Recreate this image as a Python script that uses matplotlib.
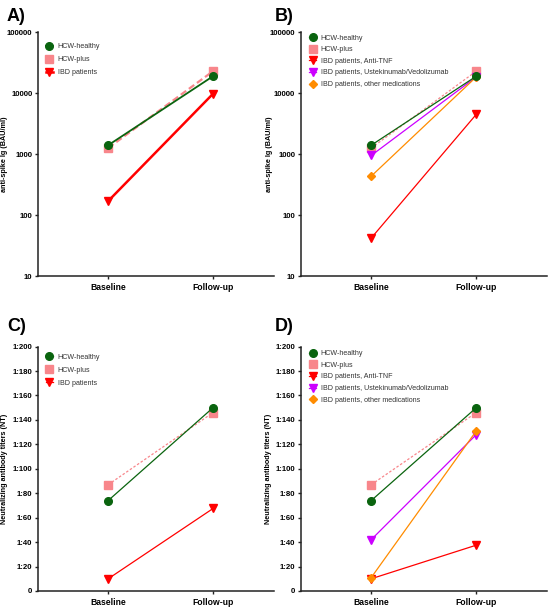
import matplotlib
matplotlib.use("Agg")
import matplotlib.pyplot as plt
from matplotlib.ticker import FixedLocator, NullLocator

plt.rcParams['font.family'] = ['Liberation Sans', 'DejaVu Sans']

# data
timepoints = ['Baseline', 'Follow-up']

# A) anti-spike IgG, pooled IBD
igg_healthy = [1400, 19000]
igg_plus = [1260, 23000]
igg_ibd = [170, 9800]

# B) anti-spike IgG by IBD medication
igg_anti_tnf = [42, 4500]
igg_uste_vedo = [950, 18500]
igg_other = [435, 18500]

# C) neutralizing titers, pooled IBD
nt_healthy = [74, 150]
nt_plus = [87, 146]
nt_ibd = [10, 67.5]

# D) neutralizing titers by IBD medication
nt_anti_tnf = [10, 37.5]
nt_uste_vedo = [42, 128]
nt_other = [11, 131]

log_ticks = [10, 100, 1000, 10000, 100000]
log_ticklabels = ['10', '100', '1000', '10000', '100000']
nt_ticks = [0, 20, 40, 60, 80, 100, 120, 140, 160, 180, 200]
nt_ticklabels = ['0', '1:20', '1:40', '1:60', '1:80', '1:100', '1:120',
                 '1:140', '1:160', '1:180', '1:200']

green = '#0A640F'
pink = '#F8868B'
red = '#FF0000'
magenta = '#CC00FF'
orange = '#FF8C00'

fig = plt.figure(figsize=(5.5, 6.08), dpi=100)
axA = fig.add_axes([0.069, 0.546, 0.429, 0.401])
axB = fig.add_axes([0.547, 0.546, 0.447, 0.401])
axC = fig.add_axes([0.069, 0.028, 0.429, 0.402])
axD = fig.add_axes([0.547, 0.028, 0.447, 0.402])

x = [0, 1]


def series(ax, y, color, marker, label, lw, ls='-', ms=5.5, z=3):
    ax.plot(x, y, color=color, lw=lw, ls=ls, marker=marker, ms=ms,
            markeredgecolor=color, label=label, zorder=z)


def style(ax, ylabel, ylab_x):
    for s in ['top', 'right']:
        ax.spines[s].set_visible(False)
    for s in ['left', 'bottom']:
        ax.spines[s].set_linewidth(1.1)
        ax.spines[s].set_color('#222222')
    ax.set_xticks(x)
    ax.set_xticklabels(timepoints, fontsize=6.2, fontweight='bold')
    ax.tick_params(axis='both', direction='out', length=2.5, width=1,
                   color='#222222', pad=1.5)
    ax.tick_params(axis='x', pad=2.5)
    ax.set_ylabel(ylabel, fontsize=5.2, fontweight='bold')
    ax.yaxis.set_label_coords(ylab_x, 0.5)
    for t in ax.get_yticklabels():
        t.set_fontsize(5.6)
        t.set_fontweight('bold')


def legend(ax, anchor, spacing):
    lg = ax.legend(loc='upper left', bbox_to_anchor=anchor, frameon=False,
                   fontsize=5.1, handlelength=0.9, handletextpad=0.7,
                   labelspacing=spacing, borderaxespad=0, borderpad=0)
    for t in lg.get_texts():
        t.set_color('#333333')


# A
series(axA, igg_healthy, green, 'o', 'HCW-healthy', 1.3, z=4)
series(axA, igg_plus, pink, 's', 'HCW-plus', 1.6, ls=(0, (3, 1.5)))
series(axA, igg_ibd, red, 'v', 'IBD patients', 1.8)
axA.set_yscale('log')
axA.set_ylim(10, 100000)
axA.set_xlim(-0.67, 1.58)
axA.yaxis.set_major_locator(FixedLocator(log_ticks))
axA.yaxis.set_minor_locator(NullLocator())
axA.set_yticklabels(log_ticklabels)
style(axA, 'anti-spike Ig (BAU/ml)', -0.125)
legend(axA, (0.035, 0.955), 0.85)

# B
series(axB, igg_healthy, green, 'o', 'HCW-healthy', 0.9, z=4)
series(axB, igg_plus, pink, 's', 'HCW-plus', 0.9, ls=(0, (2, 1.5)))
series(axB, igg_anti_tnf, red, 'v', 'IBD patients, Anti-TNF', 0.9)
series(axB, igg_uste_vedo, magenta, 'v', 'IBD patients, Ustekinumab/Vedolizumab', 0.9)
series(axB, igg_other, orange, 'D', 'IBD patients, other medications', 0.9, ms=4.2)
axB.set_yscale('log')
axB.set_ylim(10, 100000)
axB.set_xlim(-0.67, 1.67)
axB.yaxis.set_major_locator(FixedLocator(log_ticks))
axB.yaxis.set_minor_locator(NullLocator())
axB.set_yticklabels(log_ticklabels)
style(axB, 'anti-spike Ig (BAU/ml)', -0.115)
legend(axB, (0.035, 0.99), 0.65)

# C
series(axC, nt_healthy, green, 'o', 'HCW-healthy', 0.9, z=4)
series(axC, nt_plus, pink, 's', 'HCW-plus', 0.9, ls=(0, (2, 1.5)))
series(axC, nt_ibd, red, 'v', 'IBD patients', 0.9)
axC.set_ylim(0, 200)
axC.set_xlim(-0.67, 1.58)
axC.set_yticks(nt_ticks)
axC.set_yticklabels(nt_ticklabels)
style(axC, 'Neutralizing antibody titers (NT)', -0.125)
legend(axC, (0.035, 0.97), 0.85)

# D
series(axD, nt_healthy, green, 'o', 'HCW-healthy', 0.9, z=4)
series(axD, nt_plus, pink, 's', 'HCW-plus', 0.9, ls=(0, (2, 1.5)))
series(axD, nt_anti_tnf, red, 'v', 'IBD patients, Anti-TNF', 0.9)
series(axD, nt_uste_vedo, magenta, 'v', 'IBD patients, Ustekinumab/Vedolizumab', 0.9)
series(axD, nt_other, orange, 'D', 'IBD patients, other medications', 0.9, ms=4.2)
axD.set_ylim(0, 200)
axD.set_xlim(-0.67, 1.67)
axD.set_yticks(nt_ticks)
axD.set_yticklabels(nt_ticklabels)
style(axD, 'Neutralizing antibody titers (NT)', -0.118)
legend(axD, (0.035, 0.985), 0.65)

# panel letters
for lbl, px, py in [('A)', 7, 8), ('B)', 275, 8), ('C)', 7, 318), ('D)', 275, 318)]:
    fig.text(px / 550, 1 - py / 608, lbl, fontsize=13, fontweight='bold',
             ha='left', va='top')

fig.savefig('out.png', dpi=100)
